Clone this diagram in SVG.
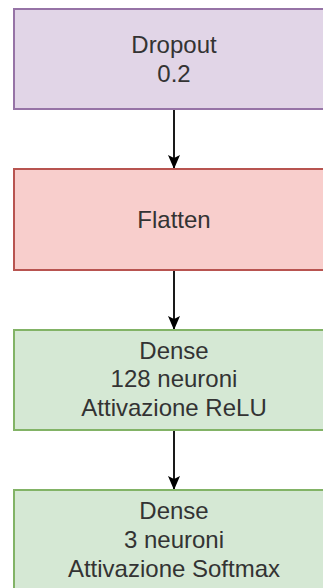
<svg xmlns="http://www.w3.org/2000/svg" width="323" height="588" viewBox="0 0 323 588">
<style>
.box{stroke-width:2}
.p{fill:#e1d5e7;stroke:#9673a6}
.r{fill:#f8cecc;stroke:#b85450}
.g{fill:#d5e8d4;stroke:#82b366}
text{font-family:"Liberation Sans",Arial,sans-serif;font-size:24px;fill:#333333;text-anchor:middle}
.conn{stroke:#1a1a1a;stroke-width:2;fill:none}
</style>
<defs>
<marker id="arr" markerWidth="14" markerHeight="12" refX="13" refY="6" orient="auto" markerUnits="userSpaceOnUse" viewBox="0 0 14 12">
<path d="M0,0 L14,6 L0,12 L3,6 Z" fill="#000"/>
</marker>
</defs>
<rect width="323" height="588" fill="#ffffff"/>
<g id="connectors">
<line class="conn" x1="174" y1="110" x2="174" y2="168" marker-end="url(#arr)"/>
<line class="conn" x1="174" y1="271" x2="174" y2="329" marker-end="url(#arr)"/>
<line class="conn" x1="174" y1="431" x2="174" y2="489" marker-end="url(#arr)"/>
</g>
<g id="dropout">
<rect class="box p" x="14" y="9" width="320" height="100"/>
<text x="174" y="53">Dropout</text>
<text x="174" y="82">0.2</text>
</g>
<g id="flatten">
<rect class="box r" x="14" y="169" width="320" height="101"/>
<text x="174" y="228">Flatten</text>
</g>
<g id="dense1">
<rect class="box g" x="14" y="330" width="320" height="100"/>
<text x="174" y="359">Dense</text>
<text x="174" y="387">128 neuroni</text>
<text x="174" y="416">Attivazione ReLU</text>
</g>
<g id="dense2">
<rect class="box g" x="14" y="490" width="320" height="100"/>
<text x="174" y="519">Dense</text>
<text x="174" y="548">3 neuroni</text>
<text x="174" y="577">Attivazione Softmax</text>
</g>
</svg>
